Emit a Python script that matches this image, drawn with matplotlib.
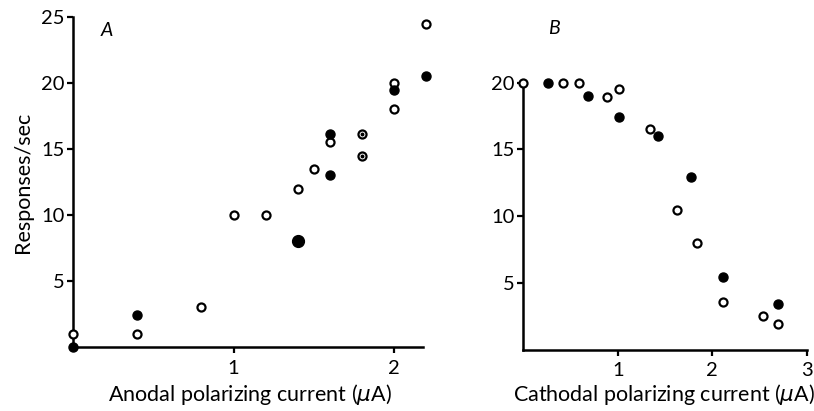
import numpy as np
import matplotlib
matplotlib.use("Agg")
import matplotlib.pyplot as plt

plt.rcParams['font.family'] = ['Lato', 'DejaVu Sans']

# panel A: anodal current (uA) vs responses/sec
a_open_x = [0.0, 0.4, 0.8, 1.0, 1.2, 1.4, 1.5, 1.6, 2.0, 2.0, 2.2]
a_open_y = [1.0, 1.0, 3.0, 10.0, 10.0, 12.0, 13.5, 15.5, 20.0, 18.0, 24.5]
a_dot_x = [1.8, 1.8]
a_dot_y = [16.1, 14.5]
a_fill_x = [0.0, 0.4, 1.6, 1.6, 2.0, 2.2]
a_fill_y = [0.0, 2.4, 16.1, 13.0, 19.5, 20.5]
a_big_x = [1.4]
a_big_y = [8.0]

# panel B: cathodal current (uA) vs responses/sec
b_open_x = [0.0, 0.42, 0.59, 0.89, 1.01, 1.34, 1.63, 1.84, 2.11, 2.54, 2.70]
b_open_y = [20.0, 20.0, 20.0, 18.9, 19.5, 16.5, 10.45, 7.95, 3.55, 2.55, 1.95]
b_fill_x = [0.26, 0.69, 1.01, 1.43, 1.77, 2.11, 2.70]
b_fill_y = [20.0, 19.0, 17.4, 16.0, 12.95, 5.45, 3.45]

fig = plt.figure(figsize=(8.14, 4.11), dpi=100)
axA = fig.add_axes([0.0897, 0.1557, 0.4300, 0.8030])
axB = fig.add_axes([0.6428, 0.1496, 0.3483, 0.6490])

open_kw = dict(ls='none', marker='o', ms=5.8, mfc='white', mec='black', mew=1.6, clip_on=False, zorder=3)
fill_kw = dict(ls='none', marker='o', ms=6.5, mfc='black', mec='black', clip_on=False, zorder=3)

axA.plot(a_open_x, a_open_y, **open_kw)
axA.plot(a_dot_x, a_dot_y, **open_kw)
axA.plot(a_dot_x, a_dot_y, ls='none', marker='o', ms=1.8, color='black', clip_on=False, zorder=4)
axA.plot(a_fill_x, a_fill_y, **fill_kw)
axA.plot(a_big_x, a_big_y, ls='none', marker='o', ms=8.5, color='black', clip_on=False, zorder=3)

axB.plot(b_open_x, b_open_y, **open_kw)
axB.plot(b_fill_x, b_fill_y, **fill_kw)

axA.set_xlim(0, 2.18)
axA.set_ylim(0, 25)
axA.set_xticks([1, 2])
axA.set_yticks([5, 10, 15, 20, 25])
axB.set_xlim(0, 3)
axB.set_ylim(0, 20)
axB.set_xticks([1, 2, 3])
axB.set_yticks([5, 10, 15, 20])

for ax in (axA, axB):
    for s in ('top', 'right'):
        ax.spines[s].set_visible(False)
    for s in ('left', 'bottom'):
        ax.spines[s].set_linewidth(1.8)
    ax.tick_params(direction='out', length=4, width=1.6, labelsize=14.5)
    ax.tick_params(axis='x', pad=5)
    ax.tick_params(axis='y', pad=2)

axA.set_ylabel('Responses/sec', fontsize=15.5, labelpad=6)

# x labels placed by baseline so the mathtext mu does not push them down
fig.text(250 / 814, 1 - 401 / 411, 'Anodal polarizing current ($\\mu$A)',
         fontsize=15.5, ha='center', va='baseline')
fig.text(664 / 814, 1 - 401 / 411, 'Cathodal polarizing current ($\\mu$A)',
         fontsize=15.5, ha='center', va='baseline')

fig.text(107 / 814, 1 - 31 / 411, 'A', fontsize=14, style='italic', ha='center', va='center')
fig.text(554 / 814, 1 - 28 / 411, 'B', fontsize=14, style='italic', ha='center', va='center')

fig.savefig('out.png', dpi=100)
